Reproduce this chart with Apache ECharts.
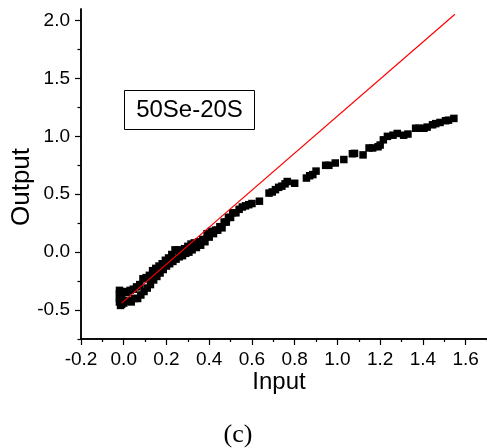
<!DOCTYPE html>
<html>
<head>
<meta charset="utf-8">
<script src="https://cdn.jsdelivr.net/npm/echarts@6/dist/echarts.min.js"></script>
<style>
html,body{margin:0;padding:0;background:#fff;}
#chart{width:487px;height:448px;}
</style>
</head>
<body>
<div id="chart"></div>
<script>
// Measured data (Input, Output)
var inputX = [
  -0.02,-0.02,-0.02,-0.02,-0.015,-0.01,-0.01,0.0,0.0,0.01,0.015,
  0.02,0.03,0.035,0.045,0.05,0.06,0.065,0.075,0.08,0.09,0.095,0.105,0.11,0.12,0.125,
  0.135,0.14,0.15,0.155,0.165,0.17,0.18,0.185,0.195,0.2,0.21,0.215,0.225,0.23,0.24,
  0.245,0.255,0.26,0.27,0.275,0.285,0.29,0.30,0.305,0.315,0.32,0.33,0.34,0.35,0.36,
  0.37,0.38,0.39,0.40,0.41,0.42,0.43,0.44,0.45,0.46,0.47,0.48,0.49,0.50,0.51,0.525,
  0.54,0.555,0.57,0.585,0.60,0.635,
  0.68,0.695,0.71,0.725,0.74,0.755,0.765,0.80,0.855,0.87,0.885,0.90,0.945,0.96,0.99,
  1.03,1.07,1.08,1.12,1.148,1.165,1.19,1.2,1.215,1.234,1.26,1.28,1.31,1.33,1.366,
  1.38,1.405,1.42,1.445,1.46,1.48,1.506,1.52,1.545
];
var outputY = [
  -0.33,-0.36,-0.40,-0.43,-0.46,-0.45,-0.38,-0.44,-0.34,-0.42,-0.35,
  -0.42,-0.33,-0.43,-0.32,-0.40,-0.30,-0.40,-0.28,-0.37,-0.23,-0.34,-0.22,-0.31,-0.20,-0.28,
  -0.16,-0.24,-0.14,-0.21,-0.12,-0.18,-0.10,-0.15,-0.07,-0.12,-0.05,-0.10,-0.02,-0.08,0.02,
  -0.06,0.02,-0.04,0.01,-0.03,0.03,-0.01,0.05,0.0,0.07,0.02,0.08,0.04,0.09,0.06,
  0.11,0.09,0.16,0.13,0.18,0.16,0.19,0.19,0.22,0.21,0.26,0.26,0.30,0.30,0.34,0.34,
  0.37,0.39,0.40,0.41,0.42,0.44,
  0.51,0.52,0.54,0.56,0.57,0.59,0.61,0.595,0.64,0.66,0.67,0.70,0.75,0.75,0.77,
  0.80,0.85,0.853,0.84,0.90,0.90,0.91,0.925,0.97,1.0,1.01,1.025,1.01,1.02,1.07,
  1.07,1.07,1.08,1.10,1.11,1.12,1.135,1.14,1.155
];
// Reference (red) line endpoints
var lineX = [-0.01, 1.55];
var lineY = [-0.44, 2.055];

// Tick values
var xTicks = [-0.2, 0.0, 0.2, 0.4, 0.6, 0.8, 1.0, 1.2, 1.4, 1.6];
var xMinorTicks = [-0.1, 0.1, 0.3, 0.5, 0.7, 0.9, 1.1, 1.3, 1.5, 1.7];
var yTicks = [-0.5, 0.0, 0.5, 1.0, 1.5, 2.0];
var yMinorTicks = [-0.75, -0.25, 0.25, 0.75, 1.25, 1.75];

var sampleLabel = '50Se-20S';
var xName = 'Input';
var yName = 'Output';
var panelLabel = '(c)';

var scatterData = inputX.map(function (x, i) { return [x, outputY[i]]; });
var lineData = lineX.map(function (x, i) { return [x, lineY[i]]; });

var FONT = '"Liberation Sans", Arial, sans-serif';
var chart = echarts.init(document.getElementById('chart'), null, {renderer: 'canvas'});

var commonX = {
  type: 'value', min: -0.2, max: 1.7, gridIndex: 0,
  splitLine: {show: false},
  axisLine: {show: true, onZero: false, lineStyle: {color: '#000', width: 1.5}}
};
var commonY = {
  type: 'value', min: -0.75, max: 2.1, gridIndex: 0,
  splitLine: {show: false},
  axisLine: {show: true, onZero: false, lineStyle: {color: '#000', width: 1.5}}
};

chart.setOption({
  animation: false,
  backgroundColor: '#fff',
  grid: {left: 81, top: 9, width: 407, height: 330, containLabel: false},
  xAxis: [
    Object.assign({}, commonX, {
      position: 'bottom',
      axisTick: {show: true, length: 6, inside: false, customValues: xTicks, lineStyle: {color: '#000', width: 1.2}},
      axisLabel: {show: true, customValues: xTicks, margin: 11, color: '#000', fontSize: 19, fontFamily: FONT,
        formatter: function (v) { return Number(v).toFixed(1); }}
    }),
    Object.assign({}, commonX, {
      position: 'bottom',
      axisTick: {show: true, length: 3, inside: false, customValues: xMinorTicks, lineStyle: {color: '#000', width: 1.2}},
      axisLabel: {show: false}
    })
  ],
  yAxis: [
    Object.assign({}, commonY, {
      position: 'left',
      axisTick: {show: true, length: 6, inside: false, customValues: yTicks, lineStyle: {color: '#000', width: 1.2}},
      axisLabel: {show: true, customValues: yTicks, margin: 11, color: '#000', fontSize: 19, fontFamily: FONT,
        formatter: function (v) { return Number(v).toFixed(1); }}
    }),
    Object.assign({}, commonY, {
      position: 'left',
      axisTick: {show: true, length: 3.5, inside: false, customValues: yMinorTicks, lineStyle: {color: '#000', width: 1.2}},
      axisLabel: {show: false}
    })
  ],
  series: [
    {
      type: 'scatter', xAxisIndex: 0, yAxisIndex: 0,
      data: scatterData, symbol: 'rect', symbolSize: 7.5,
      itemStyle: {color: '#000', opacity: 1}, z: 2
    },
    {
      type: 'line', xAxisIndex: 0, yAxisIndex: 0,
      data: lineData, showSymbol: false, symbol: 'none',
      lineStyle: {color: '#ff0000', width: 1.2}, z: 3
    }
  ],
  graphic: [
    {type: 'rect', shape: {x: 124.5, y: 90.5, width: 130, height: 39},
      style: {fill: '#fff', stroke: '#000', lineWidth: 1}, z: 10},
    {type: 'text', x: 189.5, y: 110, z: 11,
      style: {text: sampleLabel, fontSize: 24, fontFamily: FONT, fill: '#000', textAlign: 'center', textVerticalAlign: 'middle'}},
    {type: 'text', x: 279, y: 382, z: 11,
      style: {text: xName, fontSize: 24, fontFamily: FONT, fill: '#000', textAlign: 'center', textVerticalAlign: 'middle'}},
    {type: 'text', x: 22, y: 187, rotation: Math.PI / 2, z: 11,
      style: {text: yName, fontSize: 26, fontFamily: FONT, fill: '#000', textAlign: 'center', textVerticalAlign: 'middle'}},
    {type: 'text', x: 238, y: 435, z: 11,
      style: {text: panelLabel, fontSize: 26, fontFamily: '"Liberation Serif", "Times New Roman", serif', fill: '#000', textAlign: 'center', textVerticalAlign: 'middle'}}
  ]
});
</script>
</body>
</html>
